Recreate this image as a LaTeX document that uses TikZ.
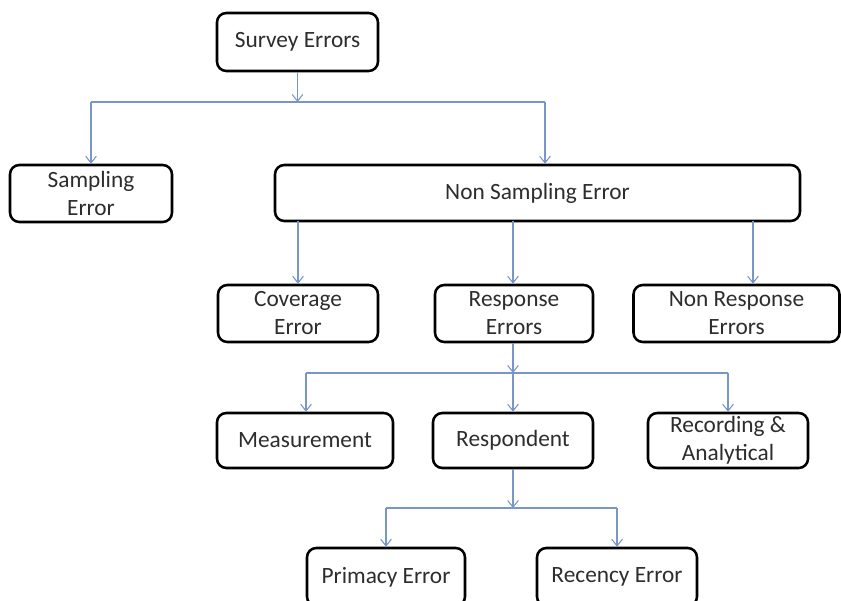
\documentclass[tikz,border=0pt]{standalone}
\usepackage{fontspec}
\setmainfont{Carlito}
\usetikzlibrary{arrows.meta}
\definecolor{conncol}{RGB}{120,150,200}
\definecolor{txtcol}{RGB}{45,45,45}
\tikzset{
  box/.style={draw=black, line width=1.9pt, rounded corners=7pt, fill=white,
    text=txtcol, align=center, inner sep=0pt,
    font=\fontsize{17.5}{21}\selectfont},
  conn/.style={draw=conncol, line width=0.8pt},
  arr/.style={conn, -{Straight Barb[length=5pt,width=8pt]}},
}
\begin{document}
\begin{tikzpicture}[x=0.75pt,y=-0.75pt]
\useasboundingbox (0,0) rectangle (841,600);
\clip (0,0) rectangle (841,600);
\fill[white] (0,0) rectangle (841,600);

% nodes
\node[box, minimum width={161*0.75pt}, minimum height={58*0.75pt}] (survey) at (297.5,42) {Survey Errors};
\node[box, minimum width={162*0.75pt}, minimum height={57*0.75pt}] (sampling) at (91,193.5) {Sampling\\Error};
\node[box, minimum width={525*0.75pt}, minimum height={56*0.75pt}] (nonsamp) at (537.5,193) {Non Sampling Error};
\node[box, minimum width={160*0.75pt}, minimum height={57*0.75pt}] (coverage) at (298,313.5) {Coverage\\Error};
\node[box, minimum width={158*0.75pt}, minimum height={57*0.75pt}] (response) at (514,313.5) {Response\\Errors};
\node[box, minimum width={206*0.75pt}, minimum height={57*0.75pt}] (nonresp) at (736.5,313.5) {Non Response\\Errors};
\node[box, minimum width={176*0.75pt}, minimum height={55*0.75pt}] (measure) at (305,440.5) {Measurement};
\node[box, minimum width={160*0.75pt}, minimum height={55*0.75pt}] (respondent) at (513,440.5) {Respondent};
\node[box, minimum width={160*0.75pt}, minimum height={55*0.75pt}] (recording) at (728,440.5) {Recording \&\\Analytical};
\node[box, minimum width={158*0.75pt}, minimum height={58*0.75pt}] (primacy) at (386,577) {Primacy Error};
\node[box, minimum width={160*0.75pt}, minimum height={58*0.75pt}] (recency) at (617,577) {Recency Error};

% bus coordinates
\coordinate (b1) at (297.5,102);
\coordinate (b1l) at (91,102);
\coordinate (b1r) at (545,102);
\coordinate (c2a) at (298,221);
\coordinate (c2b) at (513,221);
\coordinate (c2c) at (753,221);
\coordinate (b3) at (513,373);
\coordinate (b3l) at (306,373);
\coordinate (b3r) at (728,373);
\coordinate (b4) at (513,508);
\coordinate (b4l) at (386,508);
\coordinate (b4r) at (617,508);

% connectors
\draw[arr] (survey.south) -- (b1);
\draw[conn] (b1l) -- (b1r);
\draw[arr] (b1l) -- (sampling.north);
\draw[arr] (b1r) -- (b1r |- nonsamp.north);

\draw[arr] (c2a) -- (coverage.north);
\draw[arr] (c2b) -- (c2b |- response.north);
\draw[arr] (c2c) -- (c2c |- nonresp.north);

\draw[arr] (b3 |- response.south) -- (b3);
\draw[conn] (b3l) -- (b3r);
\draw[arr] (b3l) -- (b3l |- measure.north);
\draw[arr] (b3) -- (respondent.north);
\draw[arr] (b3r) -- (recording.north);

\draw[arr] (respondent.south) -- (b4);
\draw[conn] (b4l) -- (b4r);
\draw[arr] (b4l) -- (primacy.north);
\draw[arr] (b4r) -- (recency.north);
\end{tikzpicture}
\end{document}
